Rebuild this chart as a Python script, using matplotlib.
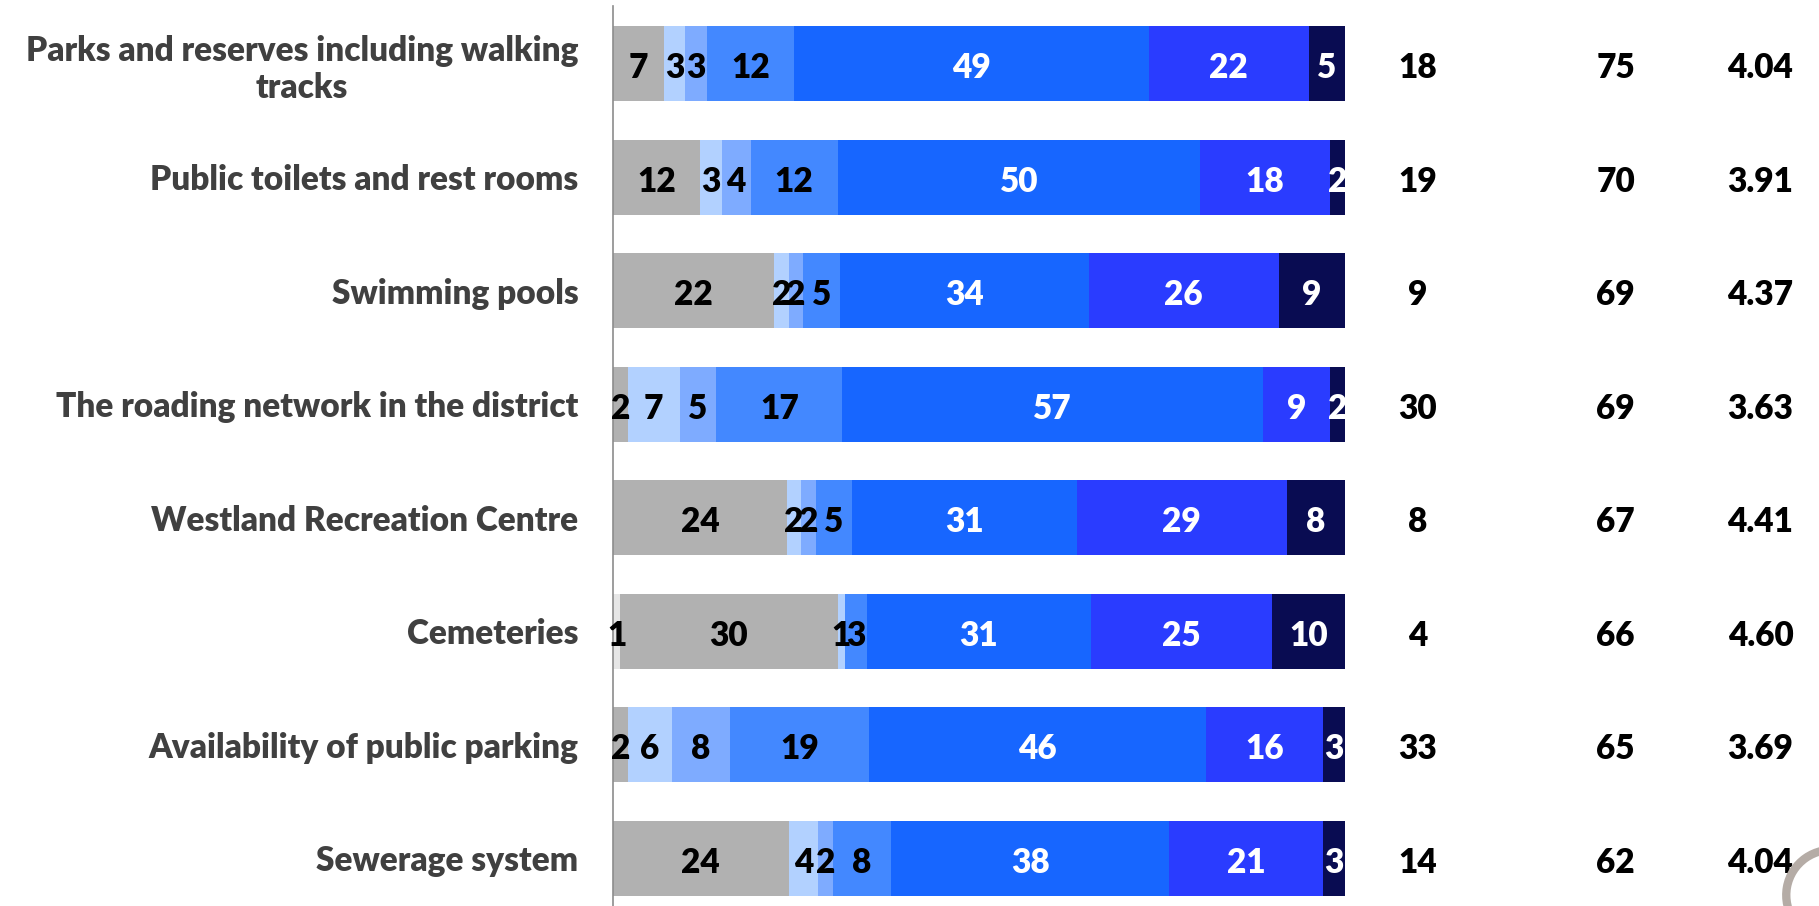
import numpy as np
import matplotlib.pyplot as plt
from matplotlib.patches import Arc

plt.rcParams['font.family'] = ['Lato', 'DejaVu Sans']
plt.rcParams['font.weight'] = 'heavy'

categories = [
    "Parks and reserves including walking\ntracks",
    "Public toilets and rest rooms",
    "Swimming pools",
    "The roading network in the district",
    "Westland Recreation Centre",
    "Cemeteries",
    "Availability of public parking",
    "Sewerage system",
]

# segment values, left to right (first column = tiny slice before "don't know")
extra     = [0, 0, 0, 0, 0, 1, 0, 0]
dont_know = [7, 12, 22, 2, 24, 30, 2, 24]
r1 = [3, 3, 2, 7, 2, 1, 6, 4]
r2 = [3, 4, 2, 5, 2, 0, 8, 2]
r3 = [12, 12, 5, 17, 5, 3, 19, 8]
r4 = [49, 50, 34, 57, 31, 31, 46, 38]
r5 = [22, 18, 26, 9, 29, 25, 16, 21]
r6 = [5, 2, 9, 2, 8, 10, 3, 3]

col_poor = ["18", "19", "9", "30", "8", "4", "33", "14"]
col_good = ["75", "70", "69", "69", "67", "66", "65", "62"]
col_mean = ["4.04", "3.91", "4.37", "3.63", "4.41", "4.60", "3.69", "4.04"]

series = [extra, dont_know, r1, r2, r3, r4, r5, r6]
colors = ['#e6e6e6', '#b1b1b1', '#b2d1ff', '#7eabff', '#4388ff',
          '#1766ff', '#2a3cff', '#090c52']
txt_col = ['black', 'black', 'black', 'black', 'black', 'white', 'white', 'white']

data = np.array(series, dtype=float)
totals = data.sum(axis=0)
shares = data / totals

fig = plt.figure(figsize=(18.19, 9.06), dpi=100)
ax = fig.add_axes([0.337, 0.0, 0.4023, 0.9934])

FS = 24
y = np.arange(len(categories))
left = np.zeros(len(categories))
for k in range(len(series)):
    ax.barh(y, shares[k], left=left, height=0.66, color=colors[k],
            edgecolor='none')
    for i in range(len(categories)):
        v = series[k][i]
        if v > 0:
            ax.text(left[i] + shares[k][i] / 2, y[i] + 0.04, str(v), ha='center',
                    va='center', color=txt_col[k], fontsize=FS)
    left += shares[k]

for i in range(len(categories)):
    ax.text(1.0997, y[i] + 0.04, col_poor[i], ha='center', va='center',
            fontsize=FS, clip_on=False)
    ax.text(1.370, y[i] + 0.04, col_good[i], ha='center', va='center',
            fontsize=FS, clip_on=False)
    ax.text(1.568, y[i] + 0.04, col_mean[i], ha='center', va='center',
            fontsize=FS, clip_on=False)

ax.set_xlim(0, 1)
ax.set_ylim(7.42, -0.51)
ax.set_yticks(y)
ax.set_yticklabels(categories, fontsize=FS, color='#404040',
                   ha='right', multialignment='center')
ax.tick_params(axis='y', length=0, pad=25)
ax.set_xticks([])
for s in ['top', 'right', 'bottom']:
    ax.spines[s].set_visible(False)
ax.spines['left'].set_color('#8c8c8c')
ax.spines['left'].set_linewidth(1.2)

# partial logo mark at bottom right
fig.patches.append(Arc((1.007, 0.012), 0.05, 0.1, theta1=85, theta2=265,
                       transform=fig.transFigure, color='#b5aca6', lw=6))

fig.savefig('out.png', dpi=100)
